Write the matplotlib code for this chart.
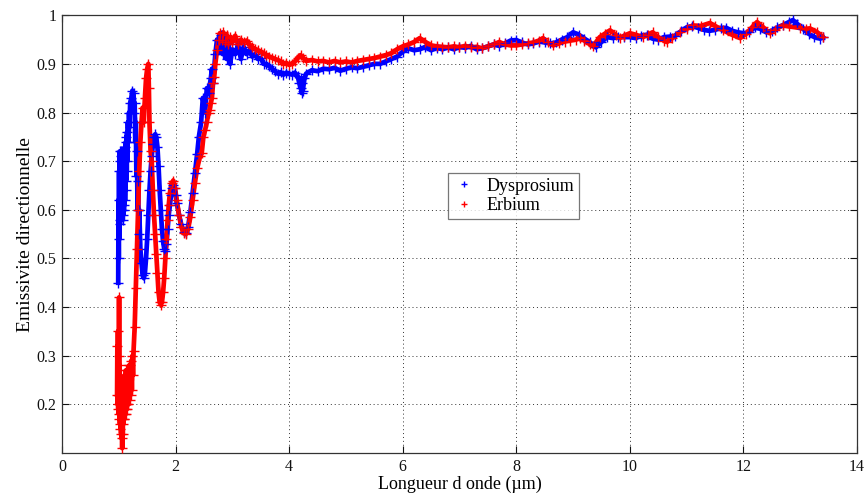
import matplotlib
matplotlib.use("Agg")
import matplotlib.pyplot as plt

# ---------------- data ----------------
dy_wl = [0.99, 0.995, 1.00, 1.005, 1.01, 1.015, 1.02, 1.025, 1.03, 1.035,
         1.04, 1.045, 1.05, 1.055, 1.06, 1.065, 1.07, 1.075, 1.08, 1.085,
         1.09, 1.095, 1.10, 1.105, 1.11, 1.115, 1.12, 1.125, 1.13, 1.135,
         1.14, 1.145, 1.15, 1.16, 1.17, 1.18, 1.19, 1.20, 1.22, 1.24,
         1.26, 1.27, 1.28, 1.29, 1.30, 1.31, 1.32, 1.33, 1.34, 1.35,
         1.36, 1.38, 1.40, 1.42, 1.44, 1.46, 1.48, 1.50, 1.52, 1.54,
         1.56, 1.58, 1.60, 1.62, 1.64, 1.66, 1.68, 1.70, 1.72, 1.74,
         1.76, 1.78, 1.80, 1.82, 1.84, 1.86, 1.88, 1.90, 1.92, 1.94,
         1.96, 1.98, 2.00, 2.02, 2.06, 2.10, 2.14, 2.18, 2.22, 2.26,
         2.30, 2.34, 2.38, 2.41, 2.45, 2.48, 2.52, 2.55, 2.58, 2.62,
         2.64, 2.66, 2.70, 2.73, 2.76, 2.80, 2.83, 2.86, 2.90, 2.93,
         2.96, 3.00, 3.05, 3.10, 3.15, 3.20, 3.25, 3.30, 3.35, 3.40,
         3.45, 3.50, 3.55, 3.60, 3.65, 3.70, 3.75, 3.80, 3.85, 3.90,
         3.95, 4.00, 4.05, 4.10, 4.15, 4.18, 4.20, 4.21, 4.22, 4.23,
         4.24, 4.27, 4.30, 4.40, 4.50, 4.60, 4.70, 4.80, 4.90, 5.00,
         5.10, 5.20, 5.30, 5.40, 5.50, 5.60, 5.70, 5.80, 5.90, 6.00,
         6.10, 6.20, 6.30, 6.40, 6.50, 6.60, 6.70, 6.80, 6.90, 7.00,
         7.10, 7.20, 7.30, 7.40, 7.50, 7.60, 7.70, 7.80, 7.90, 8.00,
         8.10, 8.20, 8.30, 8.40, 8.50, 8.60, 8.70, 8.80, 8.90, 9.00,
         9.10, 9.20, 9.30, 9.40, 9.50, 9.60, 9.70, 9.80, 9.90, 10.00,
         10.10, 10.20, 10.30, 10.40, 10.50, 10.60, 10.70, 10.80, 10.90, 11.00,
         11.10, 11.20, 11.30, 11.40, 11.50, 11.60, 11.70, 11.80, 11.90, 12.00,
         12.10, 12.20, 12.30, 12.40, 12.50, 12.60, 12.70, 12.80, 12.87, 12.95,
         13.05, 13.15, 13.25, 13.35, 13.40]
dy_em = [0.45, 0.62, 0.50, 0.68, 0.54, 0.72, 0.57, 0.70, 0.58, 0.72,
         0.60, 0.71, 0.62, 0.72, 0.60, 0.70, 0.58, 0.69, 0.59, 0.70,
         0.60, 0.71, 0.61, 0.72, 0.62, 0.73, 0.64, 0.74, 0.66, 0.75,
         0.68, 0.76, 0.70, 0.78, 0.74, 0.80, 0.77, 0.82, 0.83, 0.845,
         0.84, 0.80, 0.82, 0.74, 0.78, 0.67, 0.72, 0.60, 0.66, 0.55,
         0.60, 0.52, 0.49, 0.465, 0.46, 0.47, 0.50, 0.54, 0.59, 0.64,
         0.68, 0.71, 0.735, 0.75, 0.755, 0.75, 0.73, 0.69, 0.64, 0.60,
         0.56, 0.535, 0.52, 0.515, 0.53, 0.56, 0.59, 0.61, 0.63, 0.645,
         0.65, 0.645, 0.63, 0.615, 0.59, 0.57, 0.555, 0.553, 0.565, 0.595,
         0.635, 0.675, 0.715, 0.75, 0.78, 0.83, 0.80, 0.85, 0.84, 0.87,
         0.89, 0.86, 0.92, 0.95, 0.93, 0.96, 0.92, 0.95, 0.91, 0.94,
         0.90, 0.93, 0.92, 0.94, 0.91, 0.935, 0.92, 0.928, 0.915, 0.92,
         0.91, 0.912, 0.90, 0.90, 0.895, 0.89, 0.885, 0.88, 0.883, 0.878,
         0.882, 0.88, 0.878, 0.882, 0.875, 0.86, 0.85, 0.87, 0.84, 0.86,
         0.845, 0.87, 0.88, 0.887, 0.885, 0.89, 0.889, 0.892, 0.886, 0.89,
         0.893, 0.891, 0.894, 0.897, 0.90, 0.90, 0.905, 0.91, 0.915, 0.925,
         0.932, 0.928, 0.93, 0.935, 0.928, 0.933, 0.93, 0.934, 0.93, 0.935,
         0.933, 0.937, 0.93, 0.932, 0.936, 0.94, 0.937, 0.942, 0.948, 0.949,
         0.944, 0.94, 0.942, 0.946, 0.944, 0.942, 0.944, 0.95, 0.955, 0.965,
         0.96, 0.952, 0.944, 0.934, 0.945, 0.955, 0.953, 0.955, 0.955, 0.955,
         0.953, 0.958, 0.96, 0.952, 0.95, 0.955, 0.956, 0.958, 0.967, 0.975,
         0.978, 0.974, 0.97, 0.968, 0.97, 0.974, 0.974, 0.968, 0.965, 0.963,
         0.965, 0.975, 0.972, 0.965, 0.968, 0.975, 0.98, 0.986, 0.99, 0.982,
         0.972, 0.962, 0.955, 0.952, 0.955]

er_wl = [0.97, 0.975, 0.98, 0.985, 0.99, 0.995, 1.00, 1.005, 1.01, 1.015,
         1.02, 1.025, 1.03, 1.035, 1.04, 1.045, 1.05, 1.055, 1.06, 1.065,
         1.07, 1.075, 1.08, 1.085, 1.09, 1.095, 1.10, 1.105, 1.11, 1.115,
         1.12, 1.125, 1.13, 1.135, 1.14, 1.145, 1.15, 1.16, 1.17, 1.18,
         1.19, 1.20, 1.21, 1.22, 1.23, 1.24, 1.25, 1.26, 1.28, 1.30,
         1.32, 1.34, 1.36, 1.38, 1.40, 1.42, 1.44, 1.46, 1.48, 1.50,
         1.52, 1.53, 1.54, 1.56, 1.58, 1.60, 1.62, 1.64, 1.66, 1.68,
         1.70, 1.72, 1.74, 1.76, 1.78, 1.80, 1.82, 1.84, 1.86, 1.88,
         1.90, 1.93, 1.96, 1.99, 2.02, 2.06, 2.10, 2.14, 2.18, 2.22,
         2.26, 2.30, 2.34, 2.38, 2.43, 2.46, 2.49, 2.52, 2.55, 2.58,
         2.60, 2.62, 2.64, 2.66, 2.68, 2.70, 2.73, 2.76, 2.78, 2.81,
         2.84, 2.87, 2.90, 2.93, 2.96, 3.00, 3.05, 3.10, 3.15, 3.20,
         3.25, 3.30, 3.35, 3.40, 3.45, 3.50, 3.55, 3.60, 3.65, 3.70,
         3.75, 3.80, 3.85, 3.90, 3.95, 4.00, 4.05, 4.10, 4.15, 4.20,
         4.25, 4.30, 4.40, 4.50, 4.60, 4.70, 4.80, 4.90, 5.00, 5.10,
         5.20, 5.30, 5.40, 5.50, 5.60, 5.70, 5.80, 5.90, 6.00, 6.10,
         6.20, 6.30, 6.40, 6.50, 6.60, 6.70, 6.80, 6.90, 7.00, 7.10,
         7.20, 7.30, 7.40, 7.50, 7.60, 7.70, 7.80, 7.90, 8.00, 8.10,
         8.20, 8.30, 8.40, 8.47, 8.55, 8.65, 8.75, 8.85, 8.95, 9.05,
         9.12, 9.20, 9.30, 9.35, 9.47, 9.56, 9.65, 9.75, 9.82, 9.90,
         10.00, 10.10, 10.23, 10.32, 10.40, 10.50, 10.60, 10.65, 10.75, 10.88,
         11.00, 11.11, 11.25, 11.41, 11.50, 11.64, 11.80, 11.94, 12.05, 12.15,
         12.24, 12.35, 12.46, 12.55, 12.69, 12.80, 12.99, 13.10, 13.17, 13.30,
         13.40]
er_em = [0.22, 0.32, 0.20, 0.35, 0.19, 0.30, 0.18, 0.42, 0.17, 0.28,
         0.16, 0.26, 0.15, 0.24, 0.14, 0.22, 0.13, 0.20, 0.11, 0.19,
         0.14, 0.22, 0.16, 0.24, 0.17, 0.25, 0.17, 0.26, 0.18, 0.25,
         0.18, 0.27, 0.19, 0.26, 0.19, 0.27, 0.20, 0.27, 0.20, 0.28,
         0.21, 0.28, 0.22, 0.29, 0.23, 0.30, 0.26, 0.31, 0.36, 0.44,
         0.52, 0.60, 0.68, 0.74, 0.78, 0.81, 0.78, 0.83, 0.87, 0.89,
         0.90, 0.85, 0.78, 0.72, 0.70, 0.64, 0.59, 0.55, 0.51, 0.47,
         0.43, 0.41, 0.405, 0.41, 0.43, 0.46, 0.50, 0.54, 0.58, 0.61,
         0.635, 0.655, 0.66, 0.645, 0.62, 0.59, 0.565, 0.552, 0.55, 0.56,
         0.585, 0.62, 0.655, 0.685, 0.71, 0.716, 0.75, 0.764, 0.78, 0.80,
         0.805, 0.82, 0.83, 0.86, 0.873, 0.90, 0.928, 0.95, 0.963, 0.95,
         0.965, 0.945, 0.96, 0.94, 0.955, 0.945, 0.958, 0.94, 0.95, 0.945,
         0.948, 0.94, 0.935, 0.93, 0.928, 0.925, 0.922, 0.918, 0.915, 0.913,
         0.91, 0.908, 0.905, 0.90, 0.902, 0.898, 0.90, 0.905, 0.912, 0.918,
         0.912, 0.906, 0.908, 0.905, 0.906, 0.903, 0.906, 0.903, 0.905, 0.903,
         0.906, 0.908, 0.91, 0.912, 0.915, 0.918, 0.922, 0.93, 0.936, 0.94,
         0.945, 0.953, 0.945, 0.938, 0.936, 0.935, 0.934, 0.936, 0.934, 0.937,
         0.934, 0.935, 0.932, 0.936, 0.94, 0.945, 0.94, 0.938, 0.938, 0.94,
         0.942, 0.944, 0.948, 0.953, 0.944, 0.938, 0.942, 0.946, 0.948, 0.95,
         0.953, 0.948, 0.94, 0.936, 0.955, 0.962, 0.969, 0.96, 0.953, 0.958,
         0.963, 0.96, 0.955, 0.96, 0.965, 0.955, 0.948, 0.945, 0.953, 0.965,
         0.972, 0.979, 0.978, 0.984, 0.978, 0.969, 0.96, 0.953, 0.962, 0.975,
         0.986, 0.975, 0.963, 0.97, 0.979, 0.977, 0.974, 0.972, 0.973, 0.965,
         0.955]

series_names = ["Dysprosium", "Erbium"]
x_ticks = [0, 2, 4, 6, 8, 10, 12, 14]
y_ticks = [0.2, 0.3, 0.4, 0.5, 0.6, 0.7, 0.8, 0.9, 1.0]
y_ticklabels = ["0.2", "0.3", "0.4", "0.5", "0.6", "0.7", "0.8", "0.9", "1"]

# ---------------- figure ----------------
plt.rcParams["font.family"] = ["Liberation Serif", "DejaVu Serif"]
fig = plt.figure(figsize=(8.66, 4.93), dpi=100)
ax = fig.add_axes([0.0716, 0.0811, 0.918, 0.888])

for wl, em, col, name in [(dy_wl, dy_em, "#0000ff", series_names[0]),
                          (er_wl, er_em, "#ff0000", series_names[1])]:
    ax.plot(wl, em, "-", color=col, lw=3.4, zorder=2)
    ax.plot(wl, em, "+", color=col, ms=6.5, mew=1.0, zorder=3, label=name)

ax.set_xlim(0, 14)
ax.set_ylim(0.1, 1.0)
ax.set_xticks(x_ticks)
ax.set_yticks(y_ticks)
ax.set_yticklabels(y_ticklabels)
ax.grid(True, linestyle=(0, (1, 3)), color="#333333", linewidth=0.7)
ax.tick_params(direction="in", top=True, right=True, length=5, width=0.8,
               labelsize=11.5, colors="#111111", pad=4)
for s in ax.spines.values():
    s.set_color("#333333")
    s.set_linewidth(0.9)

ax.set_xlabel("Longueur d onde (µm)", fontsize=13, labelpad=1)
ax.set_ylabel("Emissivite directionnelle", fontsize=14, labelpad=2)

leg = ax.legend(loc="upper left", bbox_to_anchor=(0.4855, 0.639), fontsize=13,
                frameon=True, fancybox=False, edgecolor="#555555",
                handlelength=1.3, handletextpad=0.6, borderpad=0.25,
                labelspacing=0.15, markerscale=0.75, borderaxespad=0)
leg.get_frame().set_linewidth(0.9)

fig.savefig("out.png", dpi=100)
